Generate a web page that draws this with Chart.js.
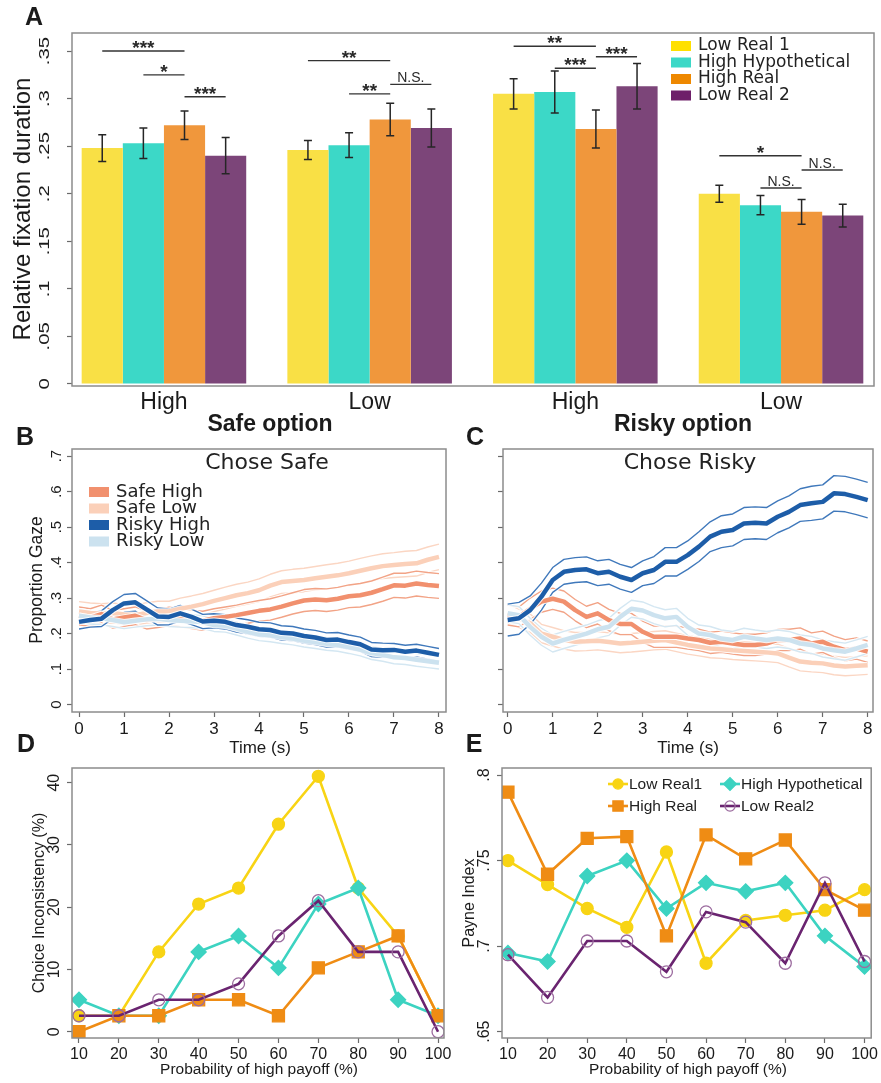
<!DOCTYPE html>
<html>
<head>
<meta charset="utf-8">
<script src="https://cdn.jsdelivr.net/npm/chart.js@4.4.1/dist/chart.umd.min.js"></script>
<style>
  html, body { margin: 0; padding: 0; background: #fff; }
  #wrap { position: relative; width: 881px; height: 1083px; overflow: hidden; }
  #wrap canvas { position: absolute; left: 0; top: 0; }
</style>
</head>
<body>
<div id="wrap">
  <canvas id="chartA" width="881" height="1083"></canvas>
  <canvas id="chartB" width="881" height="1083"></canvas>
  <canvas id="chartC" width="881" height="1083"></canvas>
  <canvas id="chartD" width="881" height="1083"></canvas>
  <canvas id="chartE" width="881" height="1083"></canvas>
</div>
<script>
// ---- panel A: relative fixation duration ----
const groupsA = ["High", "Low", "High", "Low"];
const lowReal1A = [0.248, 0.246, 0.305, 0.200];
const highHypA = [0.253, 0.251, 0.307, 0.188];
const highRealA = [0.272, 0.278, 0.268, 0.181];
const lowReal2A = [0.240, 0.269, 0.313, 0.177];
const lowReal1Err = [0.014, 0.010, 0.016, 0.009];
const highHypErr = [0.016, 0.013, 0.022, 0.010];
const highRealErr = [0.015, 0.017, 0.020, 0.013];
const lowReal2Err = [0.019, 0.020, 0.024, 0.012];
const yTicksA = [0, 0.05, 0.1, 0.15, 0.2, 0.25, 0.3, 0.35];
// significance brackets: group, from bar, to bar, level, label
const sigA = [
  { g: 0, a: 0, b: 2, y: 0.350, t: "***" },
  { g: 0, a: 1, b: 2, y: 0.325, t: "*" },
  { g: 0, a: 2, b: 3, y: 0.302, t: "***" },
  { g: 1, a: 0, b: 2, y: 0.340, t: "**" },
  { g: 1, a: 1, b: 2, y: 0.305, t: "**" },
  { g: 1, a: 2, b: 3, y: 0.315, t: "N.S." },
  { g: 2, a: 0, b: 2, y: 0.355, t: "**" },
  { g: 2, a: 1, b: 2, y: 0.332, t: "***" },
  { g: 2, a: 2, b: 3, y: 0.344, t: "***" },
  { g: 3, a: 0, b: 2, y: 0.240, t: "*" },
  { g: 3, a: 1, b: 2, y: 0.206, t: "N.S." },
  { g: 3, a: 2, b: 3, y: 0.225, t: "N.S." },
];

// ---- panels B/C: proportion gaze over time ----
const timeS = [0, 0.25, 0.5, 0.75, 1, 1.25, 1.5, 1.75, 2, 2.25, 2.5, 2.75, 3, 3.25, 3.5, 3.75, 4,
  4.25, 4.5, 4.75, 5, 5.25, 5.5, 5.75, 6, 6.25, 6.5, 6.75, 7, 7.25, 7.5, 7.75, 8];
const timeTicks = [0, 1, 2, 3, 4, 5, 6, 7, 8];
const gazeTicks = [0, 0.1, 0.2, 0.3, 0.4, 0.5, 0.6, 0.7];

const bSafeHigh = [.250, .245, .255, .240, .245, .250, .238, .242, .248, .245, .240, .236, .243, .247, .252, .258, .264, .268, .276, .285, .293, .296, .294, .298, .305, .308, .315, .325, .336, .335, .341, .337, .334];
const bSafeLow = [.262, .258, .256, .258, .254, .252, .258, .262, .262, .270, .276, .283, .292, .300, .308, .314, .322, .335, .345, .348, .351, .356, .360, .364, .370, .377, .384, .390, .393, .396, .398, .408, .416];
const bRiskyHigh = [.233, .238, .242, .266, .285, .288, .268, .248, .247, .257, .247, .234, .236, .233, .224, .219, .212, .210, .202, .200, .193, .189, .182, .183, .176, .170, .155, .153, .154, .149, .152, .146, .140];
const bRiskyLow = [.250, .245, .243, .238, .232, .236, .240, .242, .238, .236, .235, .232, .224, .222, .214, .205, .198, .195, .190, .186, .180, .176, .171, .168, .162, .155, .145, .140, .133, .131, .126, .122, .118];
const bSafeHighCi = [.025, .025, .025, .025, .025, .025, .025, .025, .026, .026, .026, .027, .027, .028, .028, .029, .029, .030, .030, .030, .031, .031, .032, .032, .032, .033, .033, .034, .034, .035, .035, .035, .035];
const bSafeLowCi = [.028, .028, .028, .028, .028, .028, .029, .029, .029, .030, .030, .030, .030, .031, .031, .031, .032, .032, .032, .033, .033, .033, .034, .034, .034, .035, .035, .035, .035, .036, .036, .036, .036];
const bRiskyHighCi = [.020, .020, .022, .024, .025, .025, .025, .024, .022, .022, .022, .020, .020, .020, .020, .020, .020, .020, .020, .020, .020, .020, .020, .020, .020, .020, .020, .020, .018, .018, .018, .018, .018];
const bRiskyLowCi = [.018, .018, .018, .018, .018, .018, .018, .018, .018, .018, .018, .018, .018, .018, .018, .018, .018, .018, .018, .018, .018, .018, .018, .018, .018, .018, .018, .018, .018, .018, .018, .018, .018];

const cSafeHigh = [.252, .247, .270, .290, .298, .290, .266, .247, .257, .238, .227, .227, .205, .191, .191, .191, .186, .182, .174, .177, .172, .168, .168, .172, .182, .182, .186, .172, .177, .163, .153, .158, .149];
const cSafeLow = [.257, .243, .229, .200, .191, .182, .177, .178, .180, .176, .172, .174, .177, .180, .182, .175, .168, .163, .158, .156, .153, .151, .149, .147, .144, .132, .121, .118, .116, .110, .107, .109, .111];
const cRiskyHigh = [.238, .243, .266, .304, .351, .374, .379, .381, .370, .374, .360, .351, .370, .379, .402, .402, .421, .445, .473, .487, .492, .510, .512, .510, .529, .543, .562, .567, .571, .595, .593, .585, .576];
const cRiskyLow = [.257, .252, .219, .191, .172, .182, .191, .200, .212, .219, .247, .270, .265, .252, .243, .247, .219, .200, .196, .186, .182, .191, .186, .182, .186, .182, .172, .168, .158, .153, .149, .158, .168];
const cSafeHighCi = [.028, .028, .030, .030, .030, .030, .030, .030, .030, .030, .030, .030, .030, .030, .030, .030, .030, .030, .030, .030, .030, .030, .030, .030, .030, .030, .030, .030, .030, .030, .030, .030, .030];
const cSafeLowCi = [.026, .026, .026, .026, .026, .026, .026, .026, .026, .026, .026, .026, .026, .026, .026, .026, .026, .026, .026, .026, .026, .026, .026, .026, .026, .026, .026, .026, .026, .026, .026, .026, .026];
const cRiskyHighCi = [.045, .045, .040, .038, .035, .035, .035, .035, .035, .035, .035, .035, .035, .038, .040, .040, .040, .042, .042, .045, .045, .045, .045, .045, .045, .045, .046, .048, .048, .050, .050, .050, .050];
const cRiskyLowCi = [.024, .024, .024, .024, .024, .024, .024, .024, .024, .024, .024, .024, .024, .024, .024, .024, .024, .024, .024, .024, .024, .024, .024, .024, .024, .024, .024, .024, .024, .024, .024, .024, .024];

// ---- panels D/E: by probability of high payoff ----
const payoffProb = [10, 20, 30, 40, 50, 60, 70, 80, 90, 100];
const lowReal1D = [2.56, 2.56, 12.82, 20.51, 23.08, 33.33, 41.03, 23.08, 15.38, 2.56];
const highHypD = [5.13, 2.56, 2.56, 12.82, 15.38, 10.26, 20.51, 23.08, 5.13, 2.56];
const highRealD = [0, 2.56, 2.56, 5.13, 5.13, 2.56, 10.26, 12.82, 15.38, 2.56];
const lowReal2D = [2.56, 2.56, 5.13, 5.13, 7.69, 15.38, 21.05, 12.82, 12.82, 0];
const lowReal1E = [0.750, 0.736, 0.722, 0.711, 0.755, 0.690, 0.715, 0.718, 0.721, 0.733];
const highHypE = [0.696, 0.691, 0.741, 0.750, 0.722, 0.737, 0.732, 0.737, 0.706, 0.688];
const highRealE = [0.790, 0.742, 0.763, 0.764, 0.706, 0.765, 0.751, 0.762, 0.733, 0.721];
const lowReal2E = [0.695, 0.670, 0.703, 0.703, 0.685, 0.720, 0.714, 0.690, 0.737, 0.691];
const yTicksD = [0, 10, 20, 30, 40];
const yTicksE = [0.65, 0.7, 0.75, 0.8];

const SANS = '"Liberation Sans", Arial, sans-serif';
const DEJAVU = '"DejaVu Sans", Verdana, sans-serif';
const INK = "#1b1b1b";
const W = 881, H = 1083;

function drawText(ctx, t) {
  ctx.save();
  ctx.font = t.font;
  ctx.fillStyle = t.color || INK;
  ctx.textAlign = t.align || "center";
  ctx.textBaseline = t.base || "middle";
  ctx.translate(t.x, t.y);
  if (t.rot) ctx.rotate(t.rot);
  if (t.sx) ctx.scale(t.sx, 1);
  ctx.fillText(t.text, 0, 0);
  ctx.restore();
}

function fmtTick(v) {
  return v === 0 ? "0" : String(v).replace(/^0\./, ".");
}

// frame, rotated y tick labels, white halos behind lines, texts
function deco(cfg) {
  return {
    id: "deco",
    beforeDatasetDraw(chart, args) {
      const ds = chart.data.datasets[args.index];
      if (!ds.halo) return;
      const ctx = chart.ctx, a = chart.chartArea, pts = args.meta.data;
      ctx.save();
      ctx.beginPath();
      ctx.rect(a.left, a.top, a.right - a.left, a.bottom - a.top);
      ctx.clip();
      ctx.strokeStyle = "rgba(255,255,255,0.85)";
      ctx.lineWidth = ds.borderWidth + 2;
      ctx.lineJoin = "round";
      ctx.beginPath();
      pts.forEach((p, i) => (i ? ctx.lineTo(p.x, p.y) : ctx.moveTo(p.x, p.y)));
      ctx.stroke();
      ctx.restore();
    },
    afterDraw(chart) {
      const ctx = chart.ctx, a = chart.chartArea;
      ctx.save();
      ctx.strokeStyle = "#8c8c8c";
      ctx.lineWidth = 1.5;
      ctx.strokeRect(a.left, a.top, a.right - a.left, a.bottom - a.top);
      if (cfg.yLabels) {
        const s = chart.scales.y;
        s.ticks.forEach((tk) => {
          drawText(ctx, {
            text: fmtTick(tk.value), x: cfg.yLabels.x, y: s.getPixelForValue(tk.value),
            font: cfg.yLabels.font, rot: -Math.PI / 2, sx: cfg.yLabels.sx,
          });
        });
      }
      if (cfg.extra) cfg.extra(chart, ctx);
      (cfg.texts || []).forEach((t) => drawText(ctx, t));
      ctx.restore();
    },
  };
}

function fixedAxis(size) {
  return (axis) => {
    if (axis.isHorizontal()) axis.height = size;
    else axis.width = size;
  };
}

function tickList(list) {
  return (axis) => {
    axis.ticks = list.map((v) => ({ value: v }));
  };
}

// chart area placed at the frame rectangle (page pixels)
function frameLayout(left, top, right, bottom) {
  return { padding: { left: left - 20, top: top, right: W - right, bottom: H - bottom - 30 } };
}

function xAxis(min, max, ticks, fontSize) {
  return {
    type: "linear", min, max, offset: false,
    afterBuildTicks: tickList(ticks),
    afterFit: fixedAxis(30),
    border: { display: false },
    grid: { drawOnChartArea: false, tickLength: 5, tickColor: "#6a6a6a", tickWidth: 1.2 },
    ticks: { color: INK, padding: 2, maxRotation: 0, font: { family: SANS, size: fontSize } },
  };
}

function yAxis(min, max, ticks) {
  return {
    min, max,
    afterBuildTicks: tickList(ticks),
    afterFit: fixedAxis(20),
    border: { display: false },
    grid: { drawOnChartArea: false, tickLength: 5, tickColor: "#6a6a6a", tickWidth: 1.2 },
    ticks: { display: false },
  };
}

const baseOptions = {
  responsive: false,
  animation: false,
  events: [],
  plugins: { legend: { display: false }, tooltip: { enabled: false } },
};

// ================= Panel A =================
const barColors = ["#F9E045", "#3CD8C7", "#F0973C", "#7C4579"];
const legendColorsA = ["#FFE000", "#3CD8C7", "#EE8800", "#6E2069"];
const seriesA = [
  { label: "Low Real 1", data: lowReal1A, err: lowReal1Err },
  { label: "High Hypothetical", data: highHypA, err: highHypErr },
  { label: "High Real", data: highRealA, err: highRealErr },
  { label: "Low Real 2", data: lowReal2A, err: lowReal2Err },
];

function drawPanelAExtras(chart, ctx) {
  const y = chart.scales.y;
  // error bars
  ctx.strokeStyle = "#262626";
  ctx.lineWidth = 1.5;
  seriesA.forEach((s, di) => {
    chart.getDatasetMeta(di).data.forEach((bar, i) => {
      const top = y.getPixelForValue(s.data[i] + s.err[i]);
      const bot = y.getPixelForValue(s.data[i] - s.err[i]);
      ctx.beginPath();
      ctx.moveTo(bar.x, top); ctx.lineTo(bar.x, bot);
      ctx.moveTo(bar.x - 4, top); ctx.lineTo(bar.x + 4, top);
      ctx.moveTo(bar.x - 4, bot); ctx.lineTo(bar.x + 4, bot);
      ctx.stroke();
    });
  });
  // significance brackets
  sigA.forEach((sg) => {
    const x1 = chart.getDatasetMeta(sg.a).data[sg.g].x;
    const x2 = chart.getDatasetMeta(sg.b).data[sg.g].x;
    const py = y.getPixelForValue(sg.y);
    ctx.strokeStyle = "#333";
    ctx.lineWidth = 1.4;
    ctx.beginPath();
    ctx.moveTo(x1, py); ctx.lineTo(x2, py);
    ctx.stroke();
    const isStar = sg.t.indexOf("*") === 0;
    drawText(ctx, {
      text: sg.t, x: (x1 + x2) / 2, y: isStar ? py + 3 : py - 2, base: "alphabetic",
      font: isStar ? "bold 19px " + SANS : "14px " + SANS, color: "#2a2a2a",
    });
  });
  // legend
  seriesA.forEach((s, i) => {
    const ly = 46 + i * 16.5;
    ctx.fillStyle = legendColorsA[i];
    ctx.fillRect(671, ly - 5, 20, 10);
    drawText(ctx, { text: s.label, x: 698, y: ly, align: "left", font: "17px " + DEJAVU, color: "#222" });
  });
}

new Chart(document.getElementById("chartA"), {
  type: "bar",
  data: {
    datasets: seriesA.map((s, i) => ({
      label: s.label,
      data: s.data.map((v, j) => ({ x: j, y: v })),
      backgroundColor: barColors[i],
      borderWidth: 0,
      barPercentage: 1,
      categoryPercentage: 0.8,
    })),
  },
  options: {
    ...baseOptions,
    layout: { padding: { left: 52, top: 33, right: W - 874, bottom: H - 386 - 40 } },
    scales: {
      x: {
        type: "linear", min: -0.447, max: 3.452, offset: false,
        afterBuildTicks: tickList([0, 1, 2, 3]),
        afterFit: fixedAxis(40),
        border: { display: false },
        grid: { display: false, drawTicks: false },
        ticks: { color: INK, padding: 3, font: { family: SANS, size: 23 }, callback: (v) => groupsA[v] ?? "" },
      },
      y: yAxis(-0.0022, 0.369, yTicksA),
    },
  },
  plugins: [deco({
    yLabels: { x: 45, font: "14px " + SANS, sx: 1.45 },
    extra: drawPanelAExtras,
    texts: [
      { text: "A", x: 34, y: 18, font: "bold 25px " + SANS },
      { text: "Relative fixation duration", x: 23, y: 209, rot: -Math.PI / 2, font: "24px " + SANS },
      { text: "Safe option", x: 270, y: 425, font: "bold 23px " + SANS },
      { text: "Risky option", x: 683, y: 425, font: "bold 23px " + SANS },
    ],
  })],
});

// ================= Panels B and C =================
const gazeLegend = [
  { label: "Safe High", color: "#F1906E" },
  { label: "Safe Low", color: "#FBD0B9" },
  { label: "Risky High", color: "#1D5DA8" },
  { label: "Risky Low", color: "#CCE2EF" },
];

function gazeDatasets(sets) {
  const out = [];
  sets.forEach((s) => {
    out.push({
      label: s.label,
      data: timeS.map((t, i) => ({ x: t, y: s.mean[i] })),
      borderColor: s.color, borderWidth: 4.5, halo: true,
    });
  });
  sets.forEach((s) => {
    [1, -1].forEach((sign) => {
      out.push({
        data: timeS.map((t, i) => ({ x: t, y: s.mean[i] + sign * s.ci[i] })),
        borderColor: s.ciColor, borderWidth: 1.4, halo: true,
      });
    });
  });
  return out;
}

function gazeChart(id, sets, frame, xmin, xmax, extraTexts, withLegend, withYLabels) {
  return new Chart(document.getElementById(id), {
    type: "line",
    data: { datasets: gazeDatasets(sets) },
    options: {
      ...baseOptions,
      layout: frameLayout(frame[0], frame[1], frame[2], frame[3]),
      elements: { point: { radius: 0 }, line: { tension: 0, borderJoinStyle: "round" } },
      scales: {
        x: xAxis(xmin, xmax, timeTicks, 17),
        y: yAxis(-0.021, 0.72, gazeTicks),
      },
    },
    plugins: [deco({
      yLabels: withYLabels ? { x: 57, font: "15px " + SANS } : null,
      extra: withLegend ? (chart, ctx) => {
        gazeLegend.forEach((g, i) => {
          const ly = 492 + i * 16.5;
          ctx.fillStyle = g.color;
          ctx.fillRect(89, ly - 5, 20, 10);
          drawText(ctx, { text: g.label, x: 116, y: ly, align: "left", font: "18px " + DEJAVU, color: "#222" });
        });
      } : null,
      texts: extraTexts,
    })],
  });
}

gazeChart("chartB", [
  { label: "Risky High", mean: bRiskyHigh, ci: bRiskyHighCi, color: "#1D5DA8", ciColor: "#3F78BB" },
  { label: "Risky Low", mean: bRiskyLow, ci: bRiskyLowCi, color: "#CCE2EF", ciColor: "#D4E7F2" },
  { label: "Safe High", mean: bSafeHigh, ci: bSafeHighCi, color: "#F1906E", ciColor: "#F2A386" },
  { label: "Safe Low", mean: bSafeLow, ci: bSafeLowCi, color: "#FBD0B9", ciColor: "#FBD6C3" },
], [72, 449, 446, 712], -0.156, 8.156, [
  { text: "B", x: 25, y: 438, font: "bold 25px " + SANS },
  { text: "Chose Safe", x: 267, y: 463, font: "22px " + DEJAVU, color: "#222" },
  { text: "Proportion Gaze", x: 37, y: 580, rot: -Math.PI / 2, font: "17.5px " + SANS },
  { text: "Time (s)", x: 260, y: 748, font: "17px " + SANS },
], true, true);

gazeChart("chartC", [
  { label: "Risky High", mean: cRiskyHigh, ci: cRiskyHighCi, color: "#1D5DA8", ciColor: "#3F78BB" },
  { label: "Risky Low", mean: cRiskyLow, ci: cRiskyLowCi, color: "#CCE2EF", ciColor: "#D4E7F2" },
  { label: "Safe High", mean: cSafeHigh, ci: cSafeHighCi, color: "#F1906E", ciColor: "#F2A386" },
  { label: "Safe Low", mean: cSafeLow, ci: cSafeLowCi, color: "#FBD0B9", ciColor: "#FBD6C3" },
], [503, 449, 873, 712], -0.104, 8.118, [
  { text: "C", x: 475, y: 438, font: "bold 25px " + SANS },
  { text: "Chose Risky", x: 690, y: 463, font: "22px " + DEJAVU, color: "#222" },
  { text: "Time (s)", x: 688, y: 748, font: "17px " + SANS },
], false, false);

// ================= Panels D and E =================
const condStyles = [
  { key: "lowReal2", label: "Low Real2", color: "#6A2470", pointStyle: "circle", r: 6, fill: "rgba(255,255,255,0)", pb: "#9C6C9F" },
  { key: "highReal", label: "High Real", color: "#EF8C14", pointStyle: "rect", r: 8.5, fill: "#EF8C14", pb: "#EF8C14" },
  { key: "highHyp", label: "High Hypothetical", color: "#3CD3C1", pointStyle: "rectRot", r: 7.5, fill: "#3CD3C1", pb: "#3CD3C1" },
  { key: "lowReal1", label: "Low Real1", color: "#F8D414", pointStyle: "circle", r: 6, fill: "#F8D414", pb: "#F8D414" },
];

function condDatasets(values) {
  return condStyles.map((st) => ({
    label: st.label,
    data: payoffProb.map((p, i) => ({ x: p, y: values[st.key][i] })),
    borderColor: st.color,
    borderWidth: 2.6,
    pointStyle: st.pointStyle,
    pointRadius: st.r,
    pointBackgroundColor: st.fill,
    pointBorderColor: st.pb,
    pointBorderWidth: 1.3,
  }));
}

function condChart(id, values, frame, xmin, xmax, ymin, ymax, yticks, yLabelX, texts, extra) {
  return new Chart(document.getElementById(id), {
    type: "line",
    data: { datasets: condDatasets(values) },
    options: {
      ...baseOptions,
      layout: frameLayout(frame[0], frame[1], frame[2], frame[3]),
      elements: { line: { tension: 0 } },
      scales: {
        x: xAxis(xmin, xmax, payoffProb, 16),
        y: yAxis(ymin, ymax, yticks),
      },
    },
    plugins: [deco({ yLabels: { x: yLabelX, font: "16px " + SANS }, texts, extra })],
  });
}

condChart("chartD",
  { lowReal1: lowReal1D, highHyp: highHypD, highReal: highRealD, lowReal2: lowReal2D },
  [72, 768, 444, 1038], 8.25, 101.5, -1.01, 42.36, yTicksD, 55, [
    { text: "D", x: 26, y: 745, font: "bold 25px " + SANS },
    { text: "Choice Inconsistency (%)", x: 40, y: 903, rot: -Math.PI / 2, font: "16px " + SANS },
    { text: "Probability of high payoff (%)", x: 259, y: 1070, font: "15.5px " + SANS },
  ]);

// legend of panel E: two columns, line with marker
const legendE = [
  { key: "lowReal1", x: 608, y: 784 },
  { key: "highHyp", x: 720, y: 784 },
  { key: "highReal", x: 608, y: 806 },
  { key: "lowReal2", x: 720, y: 806 },
];

condChart("chartE",
  { lowReal1: lowReal1E, highHyp: highHypE, highReal: highRealE, lowReal2: lowReal2E },
  [502, 768, 874, 1038], 8.5, 101.68, 0.6463, 0.8041, yTicksE, 485, [
    { text: "E", x: 474, y: 745, font: "bold 25px " + SANS },
    { text: "Payne Index", x: 470, y: 903, rot: -Math.PI / 2, font: "16px " + SANS },
    { text: "Probability of high payoff (%)", x: 688, y: 1070, font: "15.5px " + SANS },
  ],
  (chart, ctx) => {
    legendE.forEach((l) => {
      const st = condStyles.find((c) => c.key === l.key);
      ctx.strokeStyle = st.color;
      ctx.lineWidth = 2.6;
      ctx.beginPath();
      ctx.moveTo(l.x, l.y); ctx.lineTo(l.x + 20, l.y);
      ctx.stroke();
      ctx.fillStyle = st.fill;
      ctx.strokeStyle = st.pb;
      ctx.lineWidth = 1.3;
      Chart.helpers.drawPoint(ctx, { pointStyle: st.pointStyle, radius: st.r * 0.85, rotation: 0, borderWidth: 1.3 }, l.x + 10, l.y);
      drawText(ctx, { text: st.label, x: l.x + 21, y: l.y + 1, align: "left", font: "15.5px " + SANS, color: "#222" });
    });
  });
</script>
</body>
</html>
